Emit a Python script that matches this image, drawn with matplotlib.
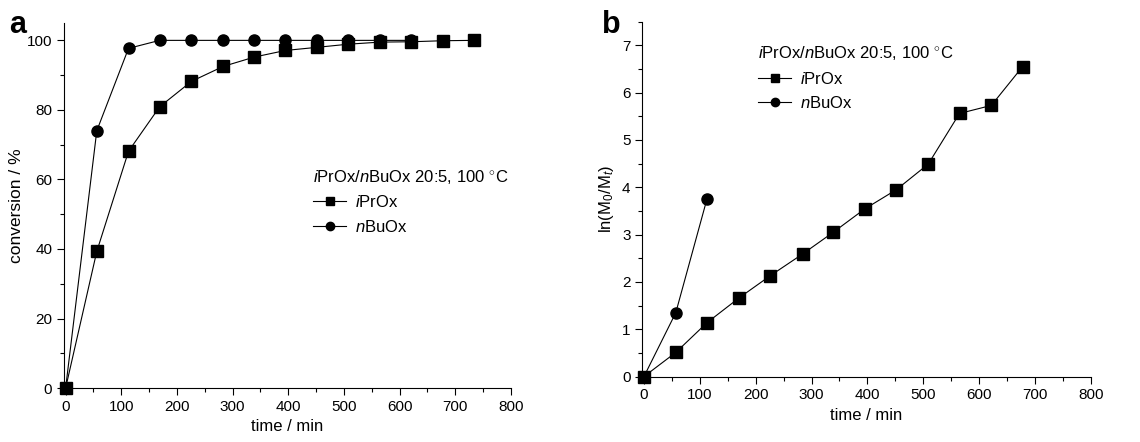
import matplotlib
matplotlib.use("Agg")
import matplotlib.pyplot as plt
from matplotlib.ticker import MultipleLocator

plt.rcParams['font.family'] = ['Liberation Sans', 'DejaVu Sans']
plt.rcParams['mathtext.fontset'] = 'custom'
plt.rcParams['mathtext.rm'] = 'Liberation Sans'
plt.rcParams['mathtext.it'] = 'Liberation Sans:italic'

# panel a: conversion vs time
time_a = [0, 56, 113, 169, 226, 283, 339, 395, 452, 508, 565, 621, 678, 734]
conv_iprox = [0, 39.3, 68.1, 80.9, 88.2, 92.5, 95.2, 97.1, 98.0, 98.9, 99.5, 99.6, 99.9, 100]
time_a_bu = [0, 56, 113, 169, 226, 283, 339, 395, 452, 508, 565, 621]
conv_nbuox = [0, 74.0, 97.7, 100, 100, 100, 100, 100, 100, 100, 100, 100]

# panel b: first-order kinetics
time_b = [0, 57, 113, 170, 226, 284, 339, 395, 452, 509, 565, 622, 678]
ln_iprox = [0, 0.51, 1.14, 1.66, 2.13, 2.59, 3.05, 3.54, 3.95, 4.49, 5.56, 5.73, 6.55]
time_b_bu = [0, 57, 113]
ln_nbuox = [0, 1.35, 3.76]

title = r"$\it{i}$PrOx/$\it{n}$BuOx 20:5, 100 $^{\circ}$C"
lab_i = r"$\it{i}$PrOx"
lab_n = r"$\it{n}$BuOx"

fig = plt.figure(figsize=(11.4, 4.42), dpi=100)
ax1 = fig.add_axes([0.0561, 0.122, 0.392, 0.826])
ax2 = fig.add_axes([0.5634, 0.148, 0.3934, 0.803])

style = dict(color='black', lw=0.8, markersize=8, clip_on=False)

ax1.plot(time_a, conv_iprox, marker='s', label=lab_i, zorder=3, **style)
ax1.plot(time_a_bu, conv_nbuox, marker='o', label=lab_n, zorder=4, **style)
ax1.set_xlim(-3, 800)
ax1.set_ylim(0, 105)
ax1.xaxis.set_major_locator(MultipleLocator(100))
ax1.xaxis.set_minor_locator(MultipleLocator(50))
ax1.yaxis.set_major_locator(MultipleLocator(20))
ax1.yaxis.set_minor_locator(MultipleLocator(10))
ax1.set_xlabel("time / min", fontsize=12)
ax1.set_ylabel("conversion / %", fontsize=12.5, labelpad=2)

ax2.plot(time_b, ln_iprox, marker='s', label=lab_i, zorder=3, **style)
ax2.plot(time_b_bu, ln_nbuox, marker='o', label=lab_n, zorder=4, **style)
ax2.set_xlim(-3, 800)
ax2.set_ylim(0, 7.5)
ax2.xaxis.set_major_locator(MultipleLocator(100))
ax2.xaxis.set_minor_locator(MultipleLocator(50))
ax2.yaxis.set_major_locator(MultipleLocator(1))
ax2.yaxis.set_minor_locator(MultipleLocator(0.5))
ax2.set_xlabel("time / min", fontsize=12)
ax2.set_ylabel(r"ln(M$_0$/M$_t$)", fontsize=12)

for ax in (ax1, ax2):
    ax.spines['top'].set_visible(False)
    ax.spines['right'].set_visible(False)
    ax.tick_params(which='major', direction='out', length=5, width=0.8, labelsize=11)
    ax.tick_params(which='minor', direction='out', length=3, width=0.8)

leg_kw = dict(bbox_transform=fig.transFigure, frameon=False, fontsize=12,
              title_fontsize=12, handlelength=2.0, markerscale=0.75,
              alignment='left', borderaxespad=0, borderpad=0,
              labelspacing=0.5, handletextpad=0.5, loc='upper left')
ax1.legend(title=title, bbox_to_anchor=(0.2746, 0.62), **leg_kw)
ax2.legend(title=title, bbox_to_anchor=(0.665, 0.90), **leg_kw)

fig.text(0.008, 0.925, "a", fontsize=22, fontweight='bold')
fig.text(0.528, 0.925, "b", fontsize=22, fontweight='bold')

fig.savefig("out.png", dpi=100)
